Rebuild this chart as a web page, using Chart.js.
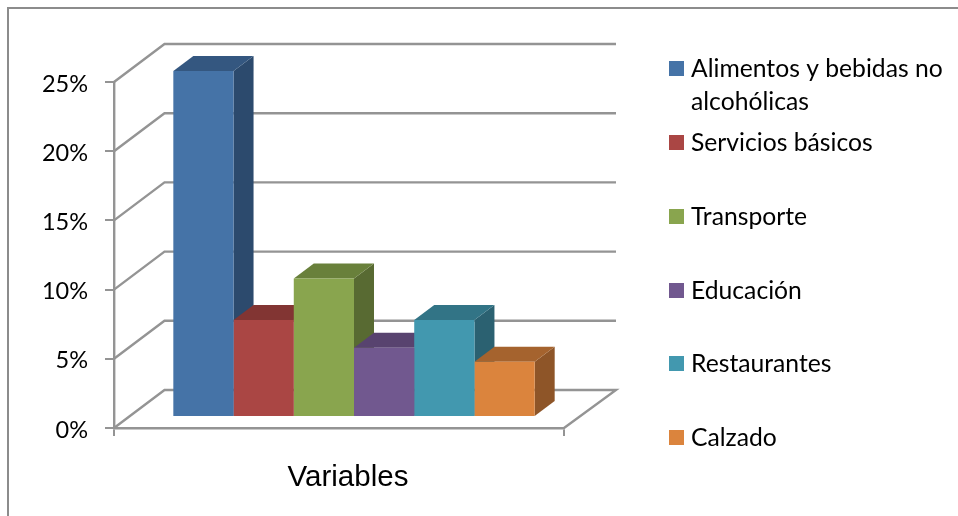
<!DOCTYPE html>
<html>
<head>
<meta charset="utf-8">
<title>Variables</title>
<script src="https://cdn.jsdelivr.net/npm/chart.js@4/dist/chart.umd.min.js"></script>
<style>
    html, body { margin: 0; padding: 0; background: #fff; }
    canvas { display: block; }
</style>
</head>
<body>
<canvas id="myChart" width="958" height="516"></canvas>
<script>
var categories = ['Variables'];
var seriesNames = ['Alimentos y bebidas no alcohólicas', 'Servicios básicos', 'Transporte', 'Educación', 'Restaurantes', 'Calzado'];
var seriesValues = [25, 7, 10, 5, 7, 4];

var frontColors = ['#4573a7', '#aa4644', '#89a54e', '#71588f', '#4298af', '#db843d'];
var topColors = ['#345780', '#823533', '#69803b', '#58436f', '#327486', '#a5632e'];
var sideColors = ['#2c4a6d', '#6e2d2c', '#586a32', '#49395d', '#2b6171', '#8e5528'];

var lineColor = '#949494';
var wallDepth = { x: 50.5, y: -38 };
var barDepth = { x: 20, y: -15 };
var barShift = { x: 15, y: -11 };
var floorRight = 616;
var legendBottoms = [77, 151, 225, 299, 372, 446];

function drawFrame(ctx) {
    ctx.strokeStyle = '#8c8c8c';
    ctx.lineWidth = 2;
    ctx.beginPath();
    ctx.moveTo(8, 516);
    ctx.lineTo(8, 8);
    ctx.lineTo(958, 8);
    ctx.stroke();
}

function drawWalls(chart) {
    var ctx = chart.ctx;
    var area = chart.chartArea;
    var yScale = chart.scales.y;
    ctx.strokeStyle = lineColor;
    ctx.lineWidth = 2.4;
    ctx.lineJoin = 'miter';
    yScale.ticks.forEach(function(tick) {
        var y = yScale.getPixelForValue(tick.value);
        ctx.beginPath();
        ctx.moveTo(area.left, y);
        ctx.lineTo(area.left + wallDepth.x, y + wallDepth.y);
        ctx.lineTo(floorRight, y + wallDepth.y);
        if (tick.value === 0) {
            ctx.lineTo(area.right, y);
        }
        ctx.stroke();
    });
}

// top and side faces go left to right, the library paints the fronts over them
function drawBarFaces(chart) {
    var ctx = chart.ctx;
    ctx.save();
    ctx.translate(barShift.x, barShift.y);
    chart.data.datasets.forEach(function(dataset, i) {
        var bar = chart.getDatasetMeta(i).data[0];
        var left = bar.x - bar.width / 2;
        var right = bar.x + bar.width / 2;

        ctx.fillStyle = sideColors[i];
        ctx.beginPath();
        ctx.moveTo(right, bar.y);
        ctx.lineTo(right + barDepth.x, bar.y + barDepth.y);
        ctx.lineTo(right + barDepth.x, bar.base + barDepth.y);
        ctx.lineTo(right, bar.base);
        ctx.closePath();
        ctx.fill();

        ctx.fillStyle = topColors[i];
        ctx.beginPath();
        ctx.moveTo(left, bar.y);
        ctx.lineTo(left + barDepth.x, bar.y + barDepth.y);
        ctx.lineTo(right + barDepth.x, bar.y + barDepth.y);
        ctx.lineTo(right, bar.y);
        ctx.closePath();
        ctx.fill();
    });
    ctx.restore();
}

function drawLegend(chart) {
    var ctx = chart.ctx;
    ctx.font = '24.7px Lato';
    ctx.textBaseline = 'alphabetic';
    ctx.textAlign = 'left';
    chart.data.datasets.forEach(function(dataset, i) {
        var bottom = legendBottoms[i];
        ctx.fillStyle = dataset.backgroundColor;
        ctx.fillRect(669, bottom - 16, 15, 15);
        ctx.fillStyle = '#000';
        var lines = [];
        var line = '';
        dataset.label.split(' ').forEach(function(word) {
            var next = line ? line + ' ' + word : word;
            if (ctx.measureText(next).width > 262) {
                lines.push(line);
                line = word;
            } else {
                line = next;
            }
        });
        lines.push(line);
        lines.forEach(function(text, n) {
            ctx.fillText(text, 691, bottom + n * 33);
        });
    });
}

var bar3d = {
    id: 'bar3d',
    beforeDraw: function(chart) {
        drawFrame(chart.ctx);
    },
    beforeDatasetsDraw: function(chart) {
        drawWalls(chart);
        drawBarFaces(chart);
    },
    beforeDatasetDraw: function(chart) {
        chart.ctx.save();
        chart.ctx.translate(barShift.x, barShift.y);
    },
    afterDatasetDraw: function(chart) {
        chart.ctx.restore();
    },
    afterDraw: function(chart) {
        drawLegend(chart);
    }
};

var config = {
    type: 'bar',
    data: {
        labels: categories,
        datasets: seriesNames.map(function(name, i) {
            return {
                label: name,
                data: [seriesValues[i]],
                backgroundColor: frontColors[i],
                borderWidth: 0,
                clip: false,
                barPercentage: 1,
                categoryPercentage: 0.803
            };
        })
    },
    options: {
        responsive: false,
        animation: false,
        events: [],
        layout: { padding: { top: 82, right: 394, left: 0, bottom: 0 } },
        plugins: {
            legend: { display: false },
            tooltip: { enabled: false },
            title: { display: false }
        },
        scales: {
            x: {
                afterFit: function(scale) { scale.height = 88; },
                grid: { color: lineColor, lineWidth: 2, drawOnChartArea: false, tickLength: 8 },
                border: { color: lineColor, width: 2.4 },
                ticks: {
                    color: '#000',
                    font: { family: 'Liberation Sans', size: 29.5 },
                    padding: 24,
                    labelOffset: 9,
                    maxRotation: 0
                }
            },
            y: {
                min: 0,
                max: 25,
                afterFit: function(scale) { scale.width = 114; },
                grid: { color: lineColor, lineWidth: 2, drawOnChartArea: false, tickLength: 9 },
                border: { color: lineColor, width: 2.4 },
                ticks: {
                    stepSize: 5,
                    color: '#000',
                    font: { family: 'Lato', size: 23.5 },
                    padding: 17,
                    labelOffset: 2,
                    callback: function(value) { return value + '%'; }
                }
            }
        }
    },
    plugins: [bar3d]
};

window.myChart = new Chart(document.getElementById('myChart').getContext('2d'), config);
</script>
</body>
</html>
